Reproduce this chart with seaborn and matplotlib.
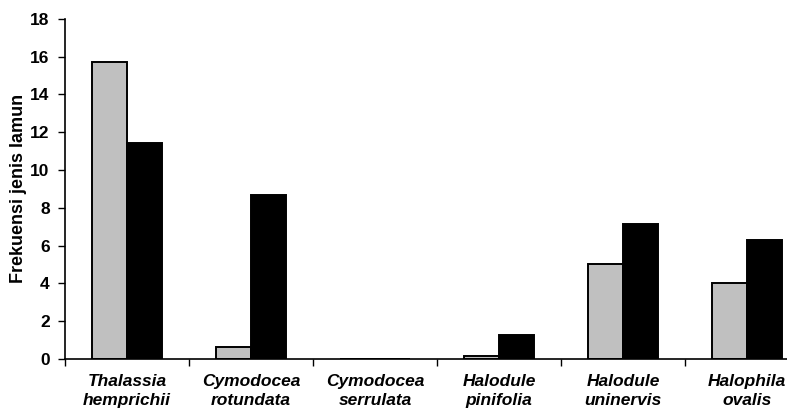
import matplotlib
matplotlib.use("Agg")
import matplotlib.pyplot as plt
import seaborn as sns
import pandas as pd
import numpy as np

categories = ["Thalassia\nhemprichii", "Cymodocea\nrotundata", "Cymodocea\nserrulata",
              "Halodule\npinifolia", "Halodule\nuninervis", "Halophila\novalis"]
series_a = [15.7, 0.65, 0.0, 0.15, 5.0, 4.0]
series_b = [11.45, 8.7, 0.0, 1.25, 7.13, 6.3]
series_names = ["Seri 1", "Seri 2"]
yticks = [0, 2, 4, 6, 8, 10, 12, 14, 16, 18]
ylabel = "Frekuensi jenis lamun"

df = pd.DataFrame({
    "kategori": categories * 2,
    "nilai": series_a + series_b,
    "seri": [series_names[0]] * len(categories) + [series_names[1]] * len(categories),
})

sns.set_style("white")
plt.rcParams["font.family"] = ["Liberation Sans", "DejaVu Sans"]
plt.rcParams["text.color"] = "black"
plt.rcParams["axes.labelcolor"] = "black"
plt.rcParams["xtick.color"] = "black"
plt.rcParams["ytick.color"] = "black"

fig = plt.figure(figsize=(7.87, 4.12), dpi=100)
ax = fig.add_axes([65 / 787, 53 / 412, (809 - 65) / 787, (359 - 18.7) / 412])

sns.barplot(data=df, x="kategori", y="nilai", hue="seri", order=categories,
            hue_order=series_names, palette=["#C0C0C0", "#000000"],
            width=0.57, gap=0, edgecolor="black", linewidth=1.4,
            legend=False, ax=ax, errorbar=None, saturation=1)

ax.set_xlim(-0.5, len(categories) - 0.5)
ax.set_ylim(0, 18)
ax.set_yticks(yticks)
ax.set_yticklabels([str(t) for t in yticks], fontsize=12.5, fontweight="bold", color="black")
ax.set_xticks(range(len(categories)))
ax.set_xticklabels(categories, fontsize=12.5, fontweight="bold", style="italic",
                   linespacing=1.3, color="black")
ax.set_xticks(np.arange(-0.5, len(categories), 1.0), minor=True)
ax.tick_params(axis="x", which="major", length=0, pad=11)
ax.tick_params(axis="x", which="minor", length=5, width=1, color="black", direction="out", bottom=True)
ax.tick_params(axis="y", which="major", length=5, width=1, color="black", direction="out", left=True, pad=6)
ax.set_xlabel("")
ax.set_ylabel(ylabel, fontsize=13, fontweight="bold", labelpad=2, color="black")

for s in ["top", "right"]:
    ax.spines[s].set_visible(False)
for s in ["left", "bottom"]:
    ax.spines[s].set_color("black")
    ax.spines[s].set_linewidth(1.2)

fig.savefig("out.png", dpi=100)
